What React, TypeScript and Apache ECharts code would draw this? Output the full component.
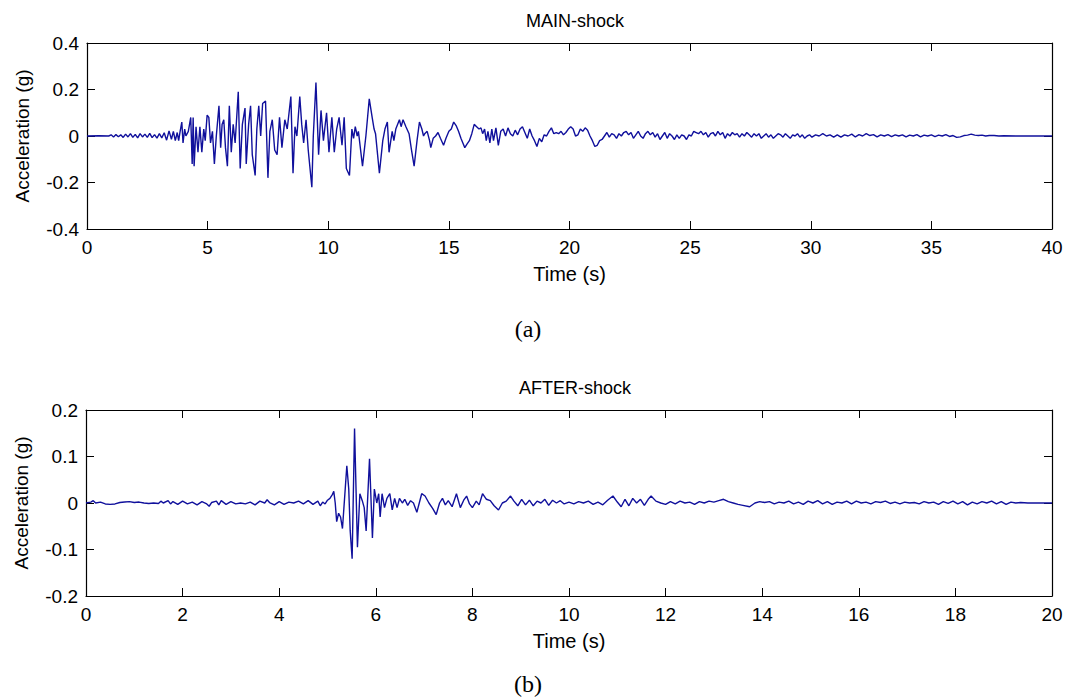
import React, { useEffect, useRef } from "react";
import * as echarts from "echarts";

// Main-shock record: [time (s), acceleration (g)]
const mainShock: [number, number][] = [
  [0, 0], [0.5, 0.001], [0.9, 0], [1.0, 0.005], [1.1, -0.004], [1.2, 0.006], [1.3, -0.003], [1.4, 0.005],
  [1.5, -0.006], [1.6, 0.008], [1.7, -0.004], [1.8, 0.01], [1.9, -0.006], [2.0, 0.007], [2.1, -0.008],
  [2.2, 0.01], [2.3, -0.004], [2.4, 0.008], [2.5, -0.006], [2.6, 0.011], [2.7, -0.007], [2.8, 0.006],
  [2.9, -0.009], [3.0, 0.01], [3.1, -0.008], [3.2, 0.014], [3.3, -0.018], [3.4, 0.022], [3.5, -0.014],
  [3.58, 0.02], [3.66, -0.02], [3.74, 0.015], [3.8, -0.02], [3.86, 0.02],
  [3.93, 0.06], [3.98, -0.03], [4.05, 0.03], [4.1, 0.0], [4.2, 0.02], [4.3, 0.08], [4.36, -0.12],
  [4.4, 0.08], [4.44, -0.13], [4.52, 0.04], [4.6, -0.07], [4.68, 0.04], [4.76, -0.07], [4.84, 0.03],
  [4.9, -0.02], [4.98, 0.09], [5.05, 0.08], [5.12, -0.03], [5.2, 0.02], [5.28, -0.12], [5.36, 0.0],
  [5.47, 0.13], [5.54, -0.05], [5.6, 0.05], [5.67, 0.07], [5.74, -0.05], [5.82, -0.13], [5.9, 0.13],
  [5.98, -0.07], [6.06, 0.05], [6.14, -0.03], [6.27, 0.19], [6.35, -0.14], [6.44, 0.05], [6.55, 0.12],
  [6.6, -0.12], [6.7, 0.05], [6.78, 0.13], [6.85, -0.08], [6.97, -0.17], [7.04, 0.03], [7.12, 0.13],
  [7.2, 0.0], [7.28, 0.14], [7.4, 0.15], [7.5, -0.18], [7.58, 0.02], [7.68, 0.07], [7.78, -0.06],
  [7.88, -0.08], [7.98, 0.08], [8.08, -0.05], [8.2, 0.07], [8.3, 0.03], [8.45, 0.17], [8.54, -0.16],
  [8.62, 0.04], [8.7, 0.0], [8.82, 0.17], [8.9, 0.05], [8.98, -0.03], [9.08, 0.07], [9.17, -0.06],
  [9.32, -0.22], [9.38, 0.0], [9.49, 0.23], [9.6, -0.08], [9.7, 0.11], [9.8, -0.02], [9.93, 0.1],
  [10.03, -0.07], [10.15, 0.08], [10.25, -0.07], [10.35, 0.03], [10.45, 0.08], [10.57, -0.04],
  [10.66, 0.08], [10.75, -0.14], [10.88, -0.17], [10.98, 0.03], [11.05, -0.01], [11.12, 0.04],
  [11.2, 0.0], [11.25, 0.02], [11.42, -0.13], [11.56, 0.0], [11.7, 0.16], [11.82, 0.08], [11.9, 0.03],
  [11.96, 0.01], [12.12, -0.16], [12.26, -0.02], [12.35, 0.03], [12.45, 0.06], [12.52, -0.07],
  [12.65, 0.02], [12.72, -0.02], [12.8, 0.03], [12.95, 0.07], [13.02, 0.04], [13.1, 0.07], [13.22, 0.04],
  [13.35, 0.01], [13.45, -0.06], [13.56, -0.13], [13.68, -0.02], [13.78, 0.06], [13.88, 0.03],
  [13.95, 0.0], [14.0, 0.01], [14.1, 0.02], [14.2, -0.02], [14.25, -0.05], [14.35, -0.01], [14.45, 0.0],
  [14.55, 0.015], [14.65, -0.01], [14.78, -0.04], [14.88, -0.01], [15.0, 0.02], [15.1, 0.03],
  [15.2, 0.06], [15.3, 0.045], [15.4, 0.02], [15.5, -0.01], [15.58, -0.03], [15.66, -0.05],
  [15.75, -0.035], [15.85, -0.02], [15.95, 0.01], [16.05, 0.05], [16.15, 0.04], [16.25, 0.03],
  [16.33, 0.035], [16.4, 0.01], [16.48, 0.03], [16.55, -0.02], [16.62, 0.02], [16.7, -0.03],
  [16.78, 0.03], [16.85, -0.02], [16.95, 0.035], [17.05, -0.04], [17.15, 0.02], [17.25, 0.03],
  [17.35, 0.0], [17.45, 0.035], [17.55, 0.01], [17.65, 0.0], [17.75, 0.025], [17.85, 0.005],
  [17.95, 0.03], [18.05, 0.04], [18.15, 0.015], [18.25, -0.01], [18.35, 0.03], [18.45, 0.0],
  [18.55, -0.02], [18.65, -0.045], [18.75, -0.01], [18.85, -0.025], [18.95, 0.005], [19.05, 0.0],
  [19.15, 0.02], [19.25, 0.035], [19.35, 0.01], [19.45, 0.015], [19.55, 0.01], [19.65, 0.02],
  [19.75, 0.005], [19.85, 0.015], [19.95, 0.03], [20.05, 0.04], [20.15, 0.03], [20.25, 0.0],
  [20.35, 0.005], [20.45, 0.03], [20.55, 0.02], [20.65, 0.035], [20.75, 0.025], [20.85, 0.0],
  [20.95, -0.02], [21.05, -0.045], [21.15, -0.04], [21.25, -0.02], [21.35, -0.015], [21.45, 0.0],
  [21.55, 0.015], [21.65, -0.005], [21.75, 0.01], [21.85, 0.005], [21.95, -0.01], [22.05, 0.01],
  [22.15, 0.0], [22.25, 0.015], [22.35, 0.02], [22.45, 0.005], [22.55, 0.015], [22.65, -0.01],
  [22.75, 0.005], [22.85, 0.02], [22.95, 0.0], [23.05, -0.01], [23.15, 0.01], [23.25, 0.02],
  [23.35, 0.005], [23.45, 0.015], [23.55, -0.005], [23.65, 0.01], [23.75, -0.015], [23.85, 0.0],
  [23.95, 0.015], [24.05, -0.01], [24.15, 0.01], [24.25, 0.0], [24.35, -0.015], [24.45, 0.005],
  [24.55, -0.01], [24.65, 0.005], [24.75, 0.0], [24.85, -0.015], [24.95, 0.005], [25.05, 0.0],
  [25.15, 0.02], [25.25, 0.015], [25.35, 0.01], [25.45, 0.02], [25.55, 0.005], [25.65, 0.015],
  [25.75, -0.005], [25.85, 0.01], [25.95, 0.015], [26.05, 0.0], [26.15, 0.02], [26.25, 0.005],
  [26.35, 0.015], [26.45, -0.01], [26.55, 0.01], [26.65, 0.0], [26.75, 0.015], [26.85, 0.005],
  [26.95, 0.01], [27.05, -0.005], [27.15, 0.01], [27.25, 0.0], [27.35, 0.015], [27.45, 0.005],
  [27.55, -0.005], [27.65, 0.01], [27.75, 0.0], [27.85, 0.01], [27.95, -0.01], [28.05, 0.0],
  [28.15, 0.01], [28.25, -0.005], [28.35, 0.005], [28.45, -0.01], [28.55, 0.0], [28.65, 0.01],
  [28.75, 0.005], [28.85, -0.005], [28.95, 0.01], [29.05, 0.0], [29.15, -0.01], [29.25, 0.005],
  [29.35, 0.0], [29.45, 0.01], [29.55, -0.005], [29.65, 0.005], [29.75, -0.01], [29.85, 0.0],
  [29.95, 0.005], [30.05, -0.005], [30.2, 0.005], [30.35, 0.0], [30.5, 0.01], [30.65, 0.0],
  [30.8, 0.005], [30.95, -0.005], [31.1, 0.005], [31.25, -0.005], [31.4, 0.005], [31.55, 0.0],
  [31.7, 0.008], [31.85, -0.004], [32.0, 0.006], [32.15, 0.0], [32.3, 0.01], [32.45, 0.002],
  [32.6, 0.006], [32.75, -0.004], [32.9, 0.005], [33.05, 0.0], [33.2, 0.006], [33.35, -0.003],
  [33.5, 0.005], [33.65, 0.0], [33.8, 0.005], [33.95, -0.004], [34.1, 0.004], [34.25, 0.0],
  [34.4, 0.006], [34.55, -0.004], [34.7, 0.004], [34.85, 0.0], [35.0, 0.005], [35.15, -0.003],
  [35.3, 0.004], [35.45, 0.0], [35.6, 0.006], [35.75, -0.002], [35.9, 0.002], [36.05, -0.006],
  [36.2, -0.004], [36.35, 0.002], [36.5, 0.004], [36.65, 0.008], [36.8, 0.004], [36.95, 0.002],
  [37.1, 0.004], [37.25, 0.0], [37.4, 0.002], [37.6, 0.002], [37.8, 0.0], [38.0, 0.001], [38.5, 0.0],
  [40.0, 0.0],
];

// After-shock record: [time (s), acceleration (g)]
const afterShock: [number, number][] = [
  [0, 0], [0.1, 0.002], [0.15, 0.005], [0.2, 0.0], [0.3, 0.002], [0.4, -0.002], [0.5, -0.003],
  [0.6, -0.002], [0.7, 0.001], [0.8, 0.002], [0.9, 0.003], [1.0, 0.001], [1.1, 0.002], [1.2, 0.0],
  [1.3, -0.001], [1.4, 0.0], [1.5, -0.001], [1.55, 0.004], [1.6, 0.0], [1.7, 0.005], [1.75, -0.002],
  [1.8, 0.003], [1.9, -0.003], [2.0, 0.004], [2.1, -0.002], [2.2, 0.002], [2.3, -0.004], [2.4, 0.003],
  [2.5, -0.002], [2.55, -0.007], [2.6, 0.001], [2.7, 0.004], [2.75, -0.004], [2.8, 0.005],
  [2.9, -0.003], [3.0, 0.003], [3.1, -0.002], [3.2, 0.0], [3.3, -0.002], [3.4, 0.002], [3.5, -0.004],
  [3.6, 0.004], [3.7, 0.0], [3.75, 0.007], [3.8, 0.001], [3.9, -0.004], [4.0, 0.003], [4.1, -0.003],
  [4.2, 0.002], [4.3, 0.0], [4.4, 0.004], [4.5, -0.002], [4.6, 0.005], [4.7, -0.003], [4.8, 0.004],
  [4.85, -0.006], [4.9, 0.002], [4.95, -0.002], [5.0, 0.006], [5.05, 0.01], [5.1, 0.018],
  [5.13, 0.025], [5.16, 0.0], [5.19, -0.04], [5.23, -0.022], [5.27, -0.03], [5.31, -0.055],
  [5.36, 0.02], [5.4, 0.08], [5.44, 0.03], [5.47, -0.06], [5.51, -0.12], [5.56, 0.16], [5.62, -0.095],
  [5.67, 0.02], [5.72, 0.005], [5.76, -0.01], [5.8, -0.06], [5.87, 0.095], [5.93, -0.075],
  [5.97, 0.03], [6.02, 0.0], [6.06, 0.02], [6.09, -0.03], [6.13, 0.02], [6.18, -0.01], [6.23, 0.01],
  [6.29, 0.02], [6.34, -0.015], [6.39, 0.01], [6.44, -0.01], [6.49, 0.01], [6.55, 0.0], [6.6, 0.008],
  [6.66, -0.005], [6.72, 0.005], [6.78, 0.0], [6.85, -0.02], [6.95, 0.02], [7.02, 0.015], [7.1, 0.0],
  [7.18, -0.012], [7.25, -0.025], [7.32, 0.0], [7.38, 0.01], [7.44, -0.004], [7.5, 0.005],
  [7.58, -0.008], [7.67, 0.02], [7.75, -0.01], [7.82, 0.006], [7.88, 0.015], [7.94, -0.002],
  [8.0, -0.01], [8.08, 0.004], [8.14, -0.004], [8.21, 0.02], [8.29, 0.008], [8.37, 0.005],
  [8.45, -0.006], [8.54, -0.015], [8.62, 0.0], [8.7, 0.004], [8.79, 0.015], [8.86, 0.004],
  [8.94, -0.006], [9.02, 0.008], [9.1, -0.004], [9.18, 0.006], [9.26, -0.006], [9.34, 0.004],
  [9.42, 0.0], [9.5, 0.008], [9.58, -0.005], [9.66, 0.006], [9.74, 0.0], [9.82, 0.005],
  [9.9, -0.002], [10.0, 0.002], [10.1, -0.002], [10.2, 0.003], [10.3, 0.0], [10.4, 0.004],
  [10.5, -0.003], [10.6, 0.002], [10.7, -0.004], [10.8, 0.006], [10.91, 0.015], [11.0, 0.002],
  [11.08, -0.008], [11.16, 0.008], [11.24, -0.006], [11.32, 0.01], [11.4, 0.0], [11.48, 0.008],
  [11.56, -0.005], [11.64, 0.008], [11.7, 0.015], [11.8, 0.004], [11.9, 0.0], [12.0, -0.003],
  [12.1, 0.003], [12.2, -0.002], [12.3, 0.004], [12.4, 0.0], [12.5, 0.002], [12.6, -0.003],
  [12.7, 0.003], [12.8, 0.0], [12.9, 0.004], [13.0, 0.002], [13.1, 0.005], [13.2, 0.008],
  [13.3, 0.003], [13.4, 0.0], [13.5, -0.003], [13.6, -0.005], [13.74, -0.008], [13.85, 0.0],
  [13.95, 0.003], [14.05, 0.001], [14.15, 0.003], [14.25, -0.002], [14.35, 0.002], [14.45, 0.0],
  [14.55, 0.004], [14.65, -0.002], [14.75, 0.002], [14.85, -0.003], [14.95, 0.004], [15.05, 0.0],
  [15.15, 0.005], [15.25, -0.002], [15.35, 0.003], [15.45, -0.003], [15.55, 0.002], [15.65, 0.0],
  [15.75, 0.004], [15.85, -0.002], [15.95, 0.004], [16.05, 0.0], [16.15, 0.002], [16.25, -0.002],
  [16.35, 0.003], [16.45, 0.001], [16.55, 0.004], [16.65, -0.001], [16.75, 0.002], [16.85, -0.002],
  [16.95, 0.002], [17.05, 0.0], [17.15, 0.001], [17.25, -0.002], [17.35, 0.003], [17.45, 0.0],
  [17.55, 0.002], [17.65, -0.003], [17.75, 0.003], [17.85, -0.001], [17.95, 0.004], [18.05, -0.002],
  [18.15, 0.003], [18.25, -0.004], [18.35, 0.002], [18.45, -0.002], [18.55, 0.003], [18.65, 0.0],
  [18.75, 0.004], [18.85, -0.002], [18.95, 0.003], [19.05, -0.003], [19.15, 0.002], [19.25, 0.0],
  [19.35, 0.001], [19.5, 0.0], [20.0, 0.0],
];

const mainTitle = "MAIN-shock";
const afterTitle = "AFTER-shock";
const yName = "Acceleration (g)";
const xName = "Time (s)";
const mainYTicks = [-0.4, 0.4, 0.2];
const afterYTicks = [-0.2, 0.2, 0.1];
const mainXTicks = [0, 40, 5];
const afterXTicks = [0, 20, 2];

const FONT = "'Liberation Sans', Arial, sans-serif";
const LINE_COLOR = "#10109c";

export default function App() {
  const ref = useRef<HTMLDivElement>(null);
  useEffect(() => {
    document.body.style.margin = "0";
    const chart = echarts.init(ref.current!, null, { renderer: "svg" });
    const grids = [
      { left: 87, top: 43, width: 965, height: 186 },
      { left: 86, top: 410, width: 966, height: 186 },
    ];
    const axisLine = { show: true, onZero: false, lineStyle: { color: "#000", width: 1.2 } };
    const tick = { show: true, inside: true, length: 8, lineStyle: { color: "#000", width: 1 } };
    const label = { color: "#000", fontSize: 19, fontFamily: FONT };
    const nameStyle = { color: "#000", fontSize: 19, fontFamily: FONT };
    const xs = [mainXTicks, afterXTicks];
    const ys = [mainYTicks, afterYTicks];
    const xAxis: any[] = [];
    const yAxis: any[] = [];
    [0, 1].forEach((g) => {
      const [xmin, xmax, xint] = xs[g];
      const [ymin, ymax, yint] = ys[g];
      xAxis.push({
        type: "value", gridIndex: g, min: xmin, max: xmax, interval: xint, position: "bottom",
        axisLine, axisTick: tick, splitLine: { show: false },
        axisLabel: { ...label, margin: 9 },
        name: xName, nameLocation: "middle", nameGap: 35, nameTextStyle: { ...nameStyle, fontSize: 20 },
      });
      xAxis.push({
        type: "value", gridIndex: g, min: xmin, max: xmax, interval: xint, position: "top",
        axisLine, axisTick: tick, splitLine: { show: false }, axisLabel: { show: false },
      });
      yAxis.push({
        type: "value", gridIndex: g, min: ymin, max: ymax, interval: yint, position: "left",
        axisLine, axisTick: tick, splitLine: { show: false },
        axisLabel: { ...label, margin: 8 },
        name: yName, nameLocation: "middle", nameGap: 55, nameTextStyle: nameStyle,
      });
      yAxis.push({
        type: "value", gridIndex: g, min: ymin, max: ymax, interval: yint, position: "right",
        axisLine, axisTick: tick, splitLine: { show: false }, axisLabel: { show: false },
      });
    });
    chart.setOption({
      animation: false,
      backgroundColor: "#fff",
      title: [
        { text: mainTitle, left: 570, top: 7, textAlign: "center", textStyle: { fontSize: 18, fontWeight: "normal", color: "#000", fontFamily: FONT } },
        { text: afterTitle, left: 570, top: 374, textAlign: "center", textStyle: { fontSize: 18, fontWeight: "normal", color: "#000", fontFamily: FONT } },
        { text: "(a)", left: 523, top: 312, textAlign: "center", textStyle: { fontSize: 24, fontWeight: "normal", color: "#000", fontFamily: "'Liberation Serif', 'Times New Roman', serif" } },
        { text: "(b)", left: 523, top: 667, textAlign: "center", textStyle: { fontSize: 24, fontWeight: "normal", color: "#000", fontFamily: "'Liberation Serif', 'Times New Roman', serif" } },
      ],
      grid: grids,
      xAxis,
      yAxis,
      series: [
        {
          type: "line", xAxisIndex: 0, yAxisIndex: 0, data: mainShock, showSymbol: false,
          lineStyle: { color: LINE_COLOR, width: 1.4 }, silent: true,
        },
        {
          type: "line", xAxisIndex: 2, yAxisIndex: 2, data: afterShock, showSymbol: false,
          lineStyle: { color: LINE_COLOR, width: 1.4 }, silent: true,
        },
      ],
    });
    return () => chart.dispose();
  }, []);
  return <div ref={ref} style={{ width: 1070, height: 698 }} />;
}
